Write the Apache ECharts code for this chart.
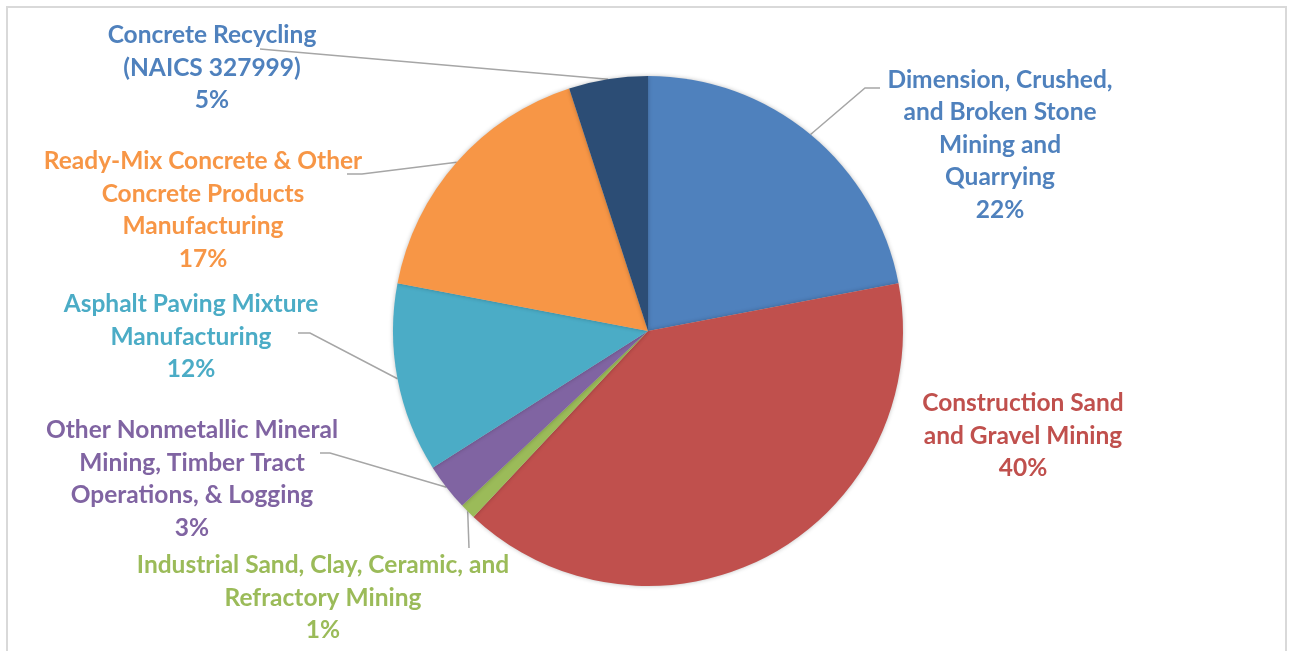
<!DOCTYPE html>
<html>
<head>
<meta charset="utf-8">
<title>Pie chart by industry</title>
<script src="https://cdn.jsdelivr.net/npm/echarts@6/dist/echarts.min.js"></script>
<style>
  html, body { margin: 0; padding: 0; background: #ffffff; }
  #chart { width: 1290px; height: 651px; }
</style>
</head>
<body>
<div id="chart"></div>
<script>
// Industry categories, clockwise from 12 o'clock
const categories = [
  'Dimension, Crushed,\nand Broken Stone\nMining and\nQuarrying',
  'Construction Sand\nand Gravel Mining',
  'Industrial Sand, Clay, Ceramic, and\nRefractory Mining',
  'Other Nonmetallic Mineral\nMining, Timber Tract\nOperations, & Logging',
  'Asphalt Paving Mixture\nManufacturing',
  'Ready-Mix Concrete & Other\nConcrete Products\nManufacturing',
  'Concrete Recycling\n(NAICS 327999)'
];
// Share of each category, percent
const shares = [22, 40, 1, 3, 12, 17, 5];

// Slice fills and label text colours
const sliceColors = ['#4F81BD', '#C0504D', '#9BBB59', '#8064A2', '#4BACC6', '#F79646', '#2C4D75'];
const labelColors = ['#4F81BD', '#C0504D', '#9BBB59', '#8064A2', '#4BACC6', '#F79646', '#4F81BD'];

// Label block centres (px)
const labelSpots = [
  [1000, 145], [1023, 436], [323, 598], [192, 479], [191, 337], [203, 210], [212, 68]
];
// Leader line bend and end points beside each label (null = no leader)
const leaderTails = [
  [[865, 88], [880, 88]],
  null,
  [[469, 548]],
  [[330, 453], [320, 453]],
  [[310, 333], [298, 333]],
  [[362, 174], [347, 174]],
  [[260, 49]]
];

const chart = echarts.init(document.getElementById('chart'), null, { renderer: 'canvas' });

chart.setOption({
  animation: false,
  backgroundColor: '#ffffff',
  graphic: [{
    type: 'rect',
    shape: { x: 7, y: 7, width: 1279, height: 700 },
    style: { fill: 'none', stroke: '#d9d9d9', lineWidth: 2 },
    silent: true,
    z: -1
  }],
  series: [{
    type: 'pie',
    center: [648, 331],
    radius: 255,
    startAngle: 90,
    clockwise: true,
    avoidLabelOverlap: false,
    itemStyle: {
      borderWidth: 0,
      shadowBlur: 4,
      shadowColor: 'rgba(0,0,0,0.25)'
    },
    label: {
      show: true,
      position: 'outside',
      fontFamily: 'Lato',
      fontWeight: 'bold',
      fontSize: 24.5,
      lineHeight: 32.5,
      align: 'center',
      formatter: p => p.name + '\n' + Math.round(p.percent) + '%'
    },
    labelLine: {
      show: true,
      length: 10,
      length2: 14,
      smooth: false,
      lineStyle: { color: '#a6a6a6', width: 1.5 }
    },
    labelLayout: p => {
      const out = {
        x: labelSpots[p.dataIndex][0],
        y: labelSpots[p.dataIndex][1],
        align: 'center',
        verticalAlign: 'middle'
      };
      const tail = leaderTails[p.dataIndex];
      if (tail && p.labelLinePoints && p.labelLinePoints.length) {
        // start the leader at the slice's own edge point
        out.labelLinePoints = [p.labelLinePoints[0].slice()].concat(tail.map(pt => pt.slice()));
      }
      return out;
    },
    data: categories.map((name, i) => ({
      name: name,
      value: shares[i],
      itemStyle: { color: sliceColors[i] },
      label: { color: labelColors[i] },
      labelLine: { show: leaderTails[i] !== null }
    }))
  }]
});
</script>
</body>
</html>
